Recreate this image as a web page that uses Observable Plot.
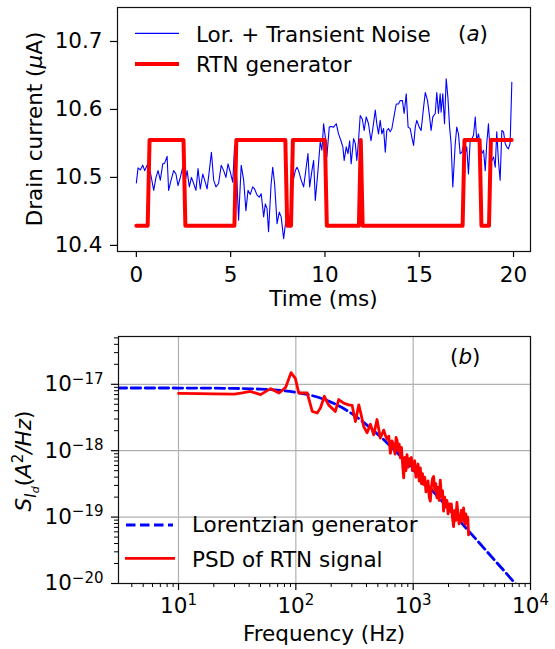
<!DOCTYPE html>
<html><head><meta charset="utf-8">
<script src="https://cdn.jsdelivr.net/npm/d3@7"></script>
<script src="https://cdn.jsdelivr.net/npm/@observablehq/plot@0.6"></script>
<style>
html,body{margin:0;padding:0;background:#fff;}
#chart{position:relative;width:555px;height:649px;font-family:"DejaVu Sans",sans-serif;}
#chart svg{position:absolute;left:0;overflow:visible;}
</style></head><body><div id="chart"></div>
<script>
// ---------- Panel (a): time traces ----------
const noiseTime = [0.00,0.09,0.21,0.34,0.44,0.57,0.74,0.92,1.04,1.15,1.27,1.40,1.50,1.63,1.71,1.84,1.98,2.10,2.21,2.33,2.46,2.60,2.69,2.81,2.92,3.04,3.16,3.27,3.39,3.52,3.62,3.75,3.87,3.98,4.10,4.22,4.36,4.50,4.63,4.75,4.86,4.98,5.11,5.21,5.34,5.42,5.56,5.69,5.81,5.92,6.04,6.17,6.27,6.40,6.52,6.62,6.75,6.84,6.93,7.01,7.14,7.23,7.33,7.46,7.58,7.68,7.81,7.93,8.07,8.20,8.30,8.43,8.52,8.60,8.74,8.87,8.96,9.10,9.19,9.31,9.40,9.49,9.63,9.75,9.84,9.93,10.02,10.10,10.23,
10.32,10.46,10.60,10.72,10.85,10.95,11.02,11.13,11.22,11.31,11.39,11.52,11.61,11.69,11.78,11.87,11.98,12.08,12.19,12.31,12.44,12.54,12.67,12.75,12.84,12.93,13.02,13.11,13.20,13.28,13.37,13.46,13.55,13.67,13.78,13.90,13.99,14.11,14.20,14.31,14.41,14.52,14.61,14.70,14.79,14.87,15.00,15.10,15.23,15.32,15.44,15.55,15.63,15.72,15.85,15.93,16.02,16.11,16.16,16.25,16.34,16.43,16.52,16.61,16.69,16.78,16.91,16.99,17.08,17.17,17.26,17.35,17.44,17.52,17.61,17.70,17.79,17.88,17.97,18.05,18.14,18.23,18.32,18.41,18.50,18.58,18.67,18.76,18.85,18.94,19.03,19.11,19.20,19.29,19.38,19.47,19.56,19.64,19.73,19.82,19.91];
const noiseCurrent = [10.492,10.514,10.511,10.518,10.510,10.518,10.508,10.481,10.500,10.510,10.496,10.520,10.521,10.531,10.481,10.496,10.510,10.505,10.488,10.500,10.515,10.496,10.510,10.486,10.500,10.491,10.481,10.513,10.483,10.505,10.496,10.483,10.510,10.537,10.496,10.486,10.491,10.518,10.510,10.500,10.520,10.508,10.493,10.547,10.491,10.437,10.518,10.496,10.451,10.481,10.475,10.486,10.483,10.474,10.471,10.476,10.442,10.461,10.454,10.420,10.488,10.515,10.491,10.432,10.449,10.442,10.410,10.437,10.432,10.451,10.493,10.510,10.515,10.510,10.496,10.486,10.505,10.535,10.486,10.510,10.525,10.466,10.510,10.552,10.540,10.579,10.559,10.530,10.574,
10.575,10.574,10.579,10.564,10.554,10.545,10.525,10.545,10.535,10.554,10.520,10.557,10.550,10.525,10.554,10.591,10.586,10.569,10.589,10.579,10.554,10.572,10.599,10.579,10.564,10.584,10.564,10.572,10.537,10.569,10.572,10.567,10.572,10.591,10.608,10.608,10.613,10.613,10.594,10.623,10.574,10.572,10.559,10.547,10.574,10.584,10.574,10.569,10.603,10.625,10.613,10.589,10.569,10.589,10.594,10.625,10.594,10.623,10.596,10.623,10.579,10.645,10.618,10.574,10.550,10.486,10.550,10.574,10.564,10.535,10.537,10.547,10.535,10.545,10.505,10.554,10.557,10.562,10.589,10.554,10.564,10.550,10.535,10.540,10.510,10.550,10.579,10.535,10.525,10.530,10.515,10.567,10.525,10.496,10.569,10.567,10.550,10.545,10.542,10.550,10.640];
const rtnTime = [0,0.6,0.7,2.5,2.6,5.2,5.3,7.9,8.0,8.2,8.3,10.0,10.1,11.8,11.9,12.0,17.3,17.4,18.2,18.3,18.7,18.8,19.9];
const rtnCurrent = [10.429,10.429,10.555,10.555,10.429,10.429,10.555,10.555,10.429,10.429,10.555,10.555,10.429,10.429,10.555,10.429,10.429,10.555,10.555,10.429,10.429,10.555,10.555];
const timeTicks = [0,5,10,15,20];
const currentTicks = [10.4,10.5,10.6,10.7];

// ---------- Panel (b): spectra ----------
const lorFreq = [3,10,30,50,70,100,130,170,220,280,350,450,600,800,1000,1400,2000,3000,4500,7200,7600];
const lorPSD = [8.8e-18,8.79e-18,8.67e-18,8.46e-18,8.16e-18,7.59e-18,6.93e-18,6.02e-18,4.96e-18,3.92e-18,2.97e-18,2.07e-18,1.31e-18,7.87e-19,5.18e-19,2.71e-19,1.35e-19,6.07e-20,2.71e-20,1.06e-20,9.5e-21];
const psdFreq = [10,15,20,30,35,41,50,61,72,82,91,99,106,125,138,152,162,175,190,217,232,256,282,302,322,344,360,379,405,432,461,492,525,561,580,600,620,640,660,682,700,715,728,745,760,778,795,812,830,850,868,886,905,925,946,965,985,1009,1030,1055,1078,1100,1125,1151,1175,1200,1228,1255,1285,1312,1340,1370,1400,1430,1460,1494,1525,1560,1595,1630,1665,1703,1740,1780,1817,1855,1895,1940,1985,2030,2071,2115,2160,2210,2260,2310,2360,2410,2460,2518,2570,2630,2689,2750,2810,2870,2920,2965];
const psdValue = [7.3e-18,7.25e-18,7.2e-18,7.1e-18,7.4e-18,7.8e-18,7.0e-18,8.6e-18,7.4e-18,9.0e-18,1.5e-17,1.23e-17,7.4e-18,7.4e-18,3.9e-18,3.7e-18,4.4e-18,6.6e-18,4.9e-18,3.9e-18,5.9e-18,5.2e-18,4.9e-18,4.8e-18,2.75e-18,4.9e-18,3.5e-18,2.3e-18,1.86e-18,2.5e-18,1.74e-18,2.95e-18,1.55e-18,2.04e-18,1.7e-18,1.48e-18,1.66e-18,9.1e-19,1.41e-18,1.2e-18,8.9e-19,1.58e-18,1.45e-18,1.0e-18,1.26e-18,7.8e-19,1.12e-18,6.3e-19,3.9e-19,7.9e-19,5.0e-19,8.7e-19,5.6e-19,7.6e-19,6.2e-19,7.9e-19,5.0e-19,5.5e-19,7.1e-19,4.0e-19,4.4e-19,6.3e-19,3.5e-19,5.5e-19,3.2e-19,4.5e-19,3.1e-19,4.0e-19,2.4e-19,2.6e-19,3.5e-19,2.0e-19,1.74e-19,2.8e-19,3.8e-19,4.1e-19,2.5e-19,3.2e-19,1.95e-19,2.8e-19,1.78e-19,3.6e-19,2.0e-19,2.5e-19,1.23e-19,2.0e-19,1.41e-19,1.78e-19,1.12e-19,1.58e-19,1.23e-19,1.58e-19,1.0e-19,7.2e-20,1.26e-19,8.9e-20,1.66e-19,1.12e-19,7.9e-20,8.5e-20,1.26e-19,8.9e-20,1.38e-19,7.9e-20,1.12e-19,7.9e-20,1.0e-19,5.4e-20];
const freqTicks = [10,100,1000,10000];
const freqTickLabels = ["10^1","10^2","10^3","10^4"];
const psdTicks = [1e-20,1e-19,1e-18,1e-17];
const psdTickLabels = ["10^\u221220","10^\u221219","10^\u221218","10^\u221217"];

const FONT = "'DejaVu Sans', sans-serif";
const FS = 21.5;
const chart = document.getElementById("chart");

function supify(svg){
  d3.select(svg).selectAll("text").each(function(){
    const s = this.textContent;
    const m = /^10\^(.+)$/.exec(s);
    if(!m) return;
    const sel = d3.select(this);
    sel.text(null);
    sel.append("tspan").text("10");
    sel.append("tspan").attr("dy", -7.5).attr("font-size", "15px").text(m[1]);
  });
}

// ---------- Plot (a) ----------
const noise = noiseTime.map((t,i)=>({t, v: noiseCurrent[i]}));
const rtn = rtnTime.map((t,i)=>({t, v: rtnCurrent[i]}));
const p1 = Plot.plot({
  width:555, height:320, marginLeft:117, marginRight:25, marginTop:7, marginBottom:69,
  style:{fontFamily:FONT, fontSize:FS+"px", color:"#000", background:"transparent"},
  x:{domain:[-1,20.9], label:null},
  y:{domain:[10.391,10.75], label:null},
  marks:[
    Plot.line(noise,{x:"t", y:"v", stroke:"#0000ff", strokeWidth:1.1}),
    Plot.line(rtn,{x:"t", y:"v", stroke:"#ff0000", strokeWidth:4, strokeLinejoin:"round"}),
    Plot.frame({stroke:"#111", strokeWidth:1.2}),
    Plot.axisX({ticks:timeTicks, tickSize:6, tickPadding:9, strokeWidth:1.2, tickFormat:d=>String(d), label:null}),
    Plot.axisY({ticks:currentTicks, tickSize:7, tickPadding:8, strokeWidth:1.2, tickFormat:d=>d.toFixed(1), label:null})
  ]
});
p1.style.top = "0px";
chart.appendChild(p1);
{
  const s = d3.select(p1);
  s.append("text").attr("transform","translate(42,129) rotate(-90)").attr("text-anchor","middle")
    .call(t=>{ t.append("tspan").text("Drain current ("); t.append("tspan").attr("font-style","italic").text("\u03bc"); t.append("tspan").text("A)"); });
  s.append("text").attr("x",323.5).attr("y",306).attr("text-anchor","middle").text("Time (ms)");
  s.append("line").attr("x1",135).attr("x2",179).attr("y1",33.3).attr("y2",33.3).attr("stroke","#0000ff").attr("stroke-width",1.2);
  s.append("line").attr("x1",135).attr("x2",179).attr("y1",64).attr("y2",64).attr("stroke","#ff0000").attr("stroke-width",4);
  s.append("text").attr("x",196).attr("y",41.5).attr("text-anchor","start").text("Lor. + Transient Noise");
  s.append("text").attr("x",196).attr("y",72).attr("text-anchor","start").text("RTN generator");
  s.append("text").attr("x",458).attr("y",41).attr("text-anchor","start")
    .call(t=>{ t.append("tspan").text("("); t.append("tspan").attr("font-style","italic").text("a"); t.append("tspan").text(")"); });
}

// ---------- Plot (b) ----------
const minorX = [], minorY = [];
for (const e of [0,1,2,3]) for (let m=2;m<=9;m++){ const v=m*Math.pow(10,e); if (v>3.08 && v<10000) minorX.push(v); }
for (const e of [-20,-19,-18,-17]) for (let m=2;m<=9;m++){ const v=m*Math.pow(10,e); if (v<Math.pow(10,-16.28)) minorY.push(v); }
const lor = lorFreq.map((f,i)=>({f, s: lorPSD[i]}));
const psd = psdFreq.map((f,i)=>({f, s: psdValue[i]}));
const p2 = Plot.plot({
  width:555, height:329, marginLeft:118, marginRight:25, marginTop:16, marginBottom:66,
  style:{fontFamily:FONT, fontSize:FS+"px", color:"#000", background:"transparent"},
  x:{type:"log", domain:[3.08,10000], label:null},
  y:{type:"log", domain:[1e-20, Math.pow(10,-16.28)], label:null},
  marks:[
    Plot.gridX({ticks:freqTicks, stroke:"#b0b0b0", strokeOpacity:1, strokeWidth:1.2}),
    Plot.gridY({ticks:psdTicks, stroke:"#b0b0b0", strokeOpacity:1, strokeWidth:1.2}),
    Plot.line(lor,{x:"f", y:"s", stroke:"#0000ff", strokeWidth:2.8, strokeDasharray:"9.5,4.5", curve:"monotone-x", clip:true}),
    Plot.line(psd,{x:"f", y:"s", stroke:"#ff0000", strokeWidth:2.8, strokeLinejoin:"round"}),
    Plot.frame({stroke:"#111", strokeWidth:1.2}),
    Plot.axisX({ticks:minorX, tickSize:4, strokeWidth:1, tickFormat:()=>"", label:null}),
    Plot.axisY({ticks:minorY, tickSize:4, strokeWidth:1, tickFormat:()=>"", label:null}),
    Plot.axisX({ticks:freqTicks, tickSize:7, tickPadding:7, strokeWidth:1.2, tickFormat:d=>freqTickLabels[freqTicks.indexOf(d)], label:null}),
    Plot.axisY({ticks:psdTicks, tickSize:7, tickPadding:8, strokeWidth:1.2, tickFormat:d=>psdTickLabels[psdTicks.indexOf(d)], label:null})
  ]
});
p2.style.top = "320px";
chart.appendChild(p2);
supify(p2);
{
  const s = d3.select(p2);
  s.append("text").attr("transform","translate(31,141) rotate(-90)").attr("text-anchor","middle")
    .call(t=>{
      t.append("tspan").attr("font-style","italic").text("S");
      t.append("tspan").attr("font-style","italic").attr("font-size","15px").attr("dy",5).text("I");
      t.append("tspan").attr("font-style","italic").attr("font-size","11px").attr("dy",3).text("d");
      t.append("tspan").attr("dy",-8).text("(");
      t.append("tspan").attr("font-style","italic").text("A");
      t.append("tspan").attr("font-size","15px").attr("dy",-8).text("2");
      t.append("tspan").attr("font-style","italic").attr("dy",8).text("/Hz");
      t.append("tspan").text(")");
    });
  s.append("text").attr("x",324).attr("y",321).attr("text-anchor","middle").text("Frequency (Hz)");
  s.append("line").attr("x1",126).attr("x2",173).attr("y1",205).attr("y2",205).attr("stroke","#0000ff").attr("stroke-width",2.8).attr("stroke-dasharray","9.5,4.5");
  s.append("line").attr("x1",125).attr("x2",175).attr("y1",238.3).attr("y2",238.3).attr("stroke","#ff0000").attr("stroke-width",2.8);
  s.append("text").attr("x",192).attr("y",211.5).attr("text-anchor","start").text("Lorentzian generator");
  s.append("text").attr("x",192).attr("y",246.5).attr("text-anchor","start").text("PSD of RTN signal");
  s.append("text").attr("x",450).attr("y",44).attr("text-anchor","start")
    .call(t=>{ t.append("tspan").text("("); t.append("tspan").attr("font-style","italic").text("b"); t.append("tspan").text(")"); });
}
</script>
</body></html>
